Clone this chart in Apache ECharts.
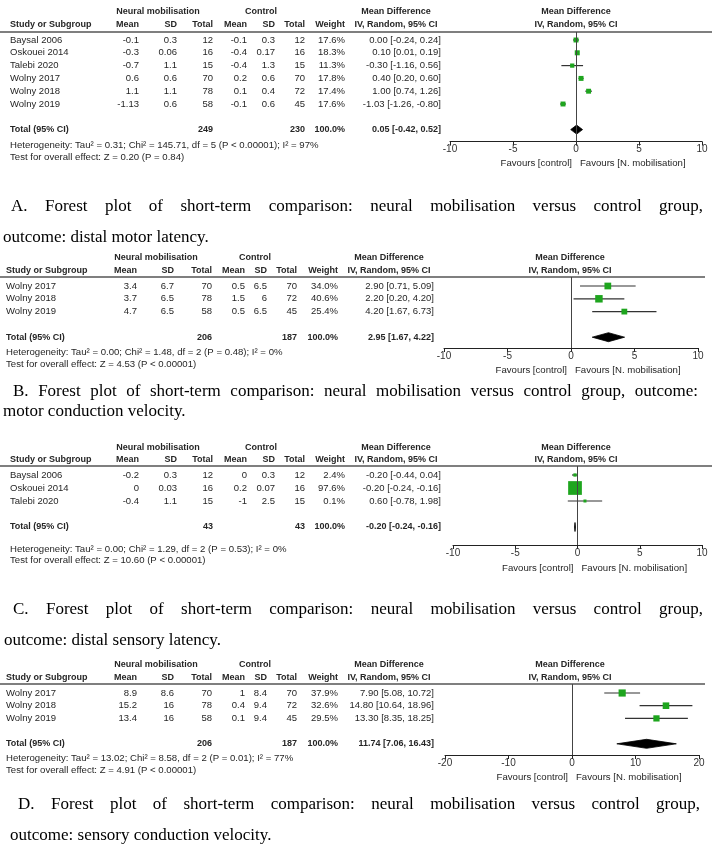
<!DOCTYPE html>
<html><head><meta charset="utf-8">
<script src="https://cdn.jsdelivr.net/npm/echarts@6/dist/echarts.min.js"></script>
<style>html,body{margin:0;padding:0;background:#fff}#c{width:712px;height:846px}</style>
</head><body><div id="c"></div>
<script>
// ---------- DATA ----------
// Panel A: distal motor latency
const studiesA = ['Baysal 2006','Oskouei 2014','Talebi 2020','Wolny 2017','Wolny 2018','Wolny 2019'];
const nmMeanA = [-0.1,-0.3,-0.7,0.6,1.1,-1.13];
const nmSdA = [0.3,0.06,1.1,0.6,1.1,0.6];
const nmTotalA = [12,16,15,70,78,58];
const ctMeanA = [-0.1,-0.4,-0.4,0.2,0.1,-0.1];
const ctSdA = [0.3,0.17,1.3,0.6,0.4,0.6];
const ctTotalA = [12,16,15,70,72,45];
const weightA = [17.6,18.3,11.3,17.8,17.4,17.6];
const mdA = [0.00,0.10,-0.30,0.40,1.00,-1.03];
const lowA = [-0.24,0.01,-1.16,0.20,0.74,-1.26];
const highA = [0.24,0.19,0.56,0.60,1.26,-0.80];
const totalA = [249,230,0.05,-0.42,0.52];
const hetA = 'Heterogeneity: Tau² = 0.31; Chi² = 145.71, df = 5 (P < 0.00001); I² = 97%';
const testA = 'Test for overall effect: Z = 0.20 (P = 0.84)';
const ticksA = [-10,10,5];

// Panel B: motor conduction velocity
const studiesB = ['Wolny 2017','Wolny 2018','Wolny 2019'];
const nmMeanB = [3.4,3.7,4.7];
const nmSdB = [6.7,6.5,6.5];
const nmTotalB = [70,78,58];
const ctMeanB = [0.5,1.5,0.5];
const ctSdB = [6.5,6,6.5];
const ctTotalB = [70,72,45];
const weightB = [34.0,40.6,25.4];
const mdB = [2.90,2.20,4.20];
const lowB = [0.71,0.20,1.67];
const highB = [5.09,4.20,6.73];
const totalB = [206,187,2.95,1.67,4.22];
const hetB = 'Heterogeneity: Tau² = 0.00; Chi² = 1.48, df = 2 (P = 0.48); I² = 0%';
const testB = 'Test for overall effect: Z = 4.53 (P < 0.00001)';
const ticksB = [-10,10,5];

// Panel C: distal sensory latency
const studiesC = ['Baysal 2006','Oskouei 2014','Talebi 2020'];
const nmMeanC = [-0.2,0,-0.4];
const nmSdC = [0.3,0.03,1.1];
const nmTotalC = [12,16,15];
const ctMeanC = [0,0.2,-1];
const ctSdC = [0.3,0.07,2.5];
const ctTotalC = [12,16,15];
const weightC = [2.4,97.6,0.1];
const mdC = [-0.20,-0.20,0.60];
const lowC = [-0.44,-0.24,-0.78];
const highC = [0.04,-0.16,1.98];
const totalC = [43,43,-0.20,-0.24,-0.16];
const hetC = 'Heterogeneity: Tau² = 0.00; Chi² = 1.29, df = 2 (P = 0.53); I² = 0%';
const testC = 'Test for overall effect: Z = 10.60 (P < 0.00001)';
const ticksC = [-10,10,5];

// Panel D: sensory conduction velocity
const studiesD = ['Wolny 2017','Wolny 2018','Wolny 2019'];
const nmMeanD = [8.9,15.2,13.4];
const nmSdD = [8.6,16,16];
const nmTotalD = [70,78,58];
const ctMeanD = [1,0.4,0.1];
const ctSdD = [8.4,9.4,9.4];
const ctTotalD = [70,72,45];
const weightD = [37.9,32.6,29.5];
const mdD = [7.90,14.80,13.30];
const lowD = [5.08,10.64,8.35];
const highD = [10.72,18.96,18.25];
const totalD = [206,187,11.74,7.06,16.43];
const hetD = 'Heterogeneity: Tau² = 13.02; Chi² = 8.58, df = 2 (P = 0.01); I² = 77%';
const testD = 'Test for overall effect: Z = 4.91 (P < 0.00001)';
const ticksD = [-20,20,10];

const captionA = ['A. Forest plot of short-term comparison: neural mobilisation versus control group,', 'outcome: distal motor latency.'];
const captionB = ['B. Forest plot of short-term comparison: neural mobilisation versus control group, outcome:', 'motor conduction velocity.'];
const captionC = ['C. Forest plot of short-term comparison: neural mobilisation versus control group,', 'outcome: distal sensory latency.'];
const captionD = ['D. Forest plot of short-term comparison: neural mobilisation versus control group,', 'outcome: sensory conduction velocity.'];

// ---------- LAYOUT ----------
const COLS_AC = {study:10, mean:139, sd:177, tot:213, cmean:247, csd:275, ctot:305, w:345, ci:441, nmHead:158, ctHead:261, mdHead:396, fpHead:576};
const COLS_BD = {study:6, mean:137, sd:174, tot:212, cmean:245, csd:267, ctot:297, w:338, ci:434, nmHead:156, ctHead:255, mdHead:389, fpHead:570};
const LAY = [
  {cols:COLS_AC, h1:12, h2:25, lineY:32, lineEnd:712, row0:40, step:12.8, axisY:141.6, plotL:450, plotR:702, hetY:145, testY:157, favY:163,
   cap:[{y:207, x0:11, x1:703, just:true},{y:238, x0:3}]},
  {cols:COLS_BD, h1:258, h2:271, lineY:277, lineEnd:705, row0:286, step:12.8, axisY:348, plotL:444, plotR:698, hetY:352, testY:364, favY:370,
   cap:[{y:392, x0:13, x1:698, just:true},{y:412, x0:3}]},
  {cols:COLS_AC, h1:448, h2:460, lineY:466, lineEnd:712, row0:475, step:13, axisY:545, plotL:453, plotR:702, hetY:549, testY:560, favY:568,
   cap:[{y:610, x0:13, x1:703, just:true},{y:641, x0:4}]},
  {cols:COLS_BD, h1:665, h2:678, lineY:684, lineEnd:705, row0:693, step:12.7, axisY:755, plotL:445, plotR:699, hetY:758, testY:770, favY:777,
   cap:[{y:805, x0:18, x1:700, just:true},{y:836, x0:10}]}
];

const P = [
  {studies:studiesA, nmMean:nmMeanA, nmSd:nmSdA, nmTot:nmTotalA, ctMean:ctMeanA, ctSd:ctSdA, ctTot:ctTotalA, w:weightA, md:mdA, lo:lowA, hi:highA, tot:totalA, het:hetA, test:testA, ticks:ticksA, cap:captionA},
  {studies:studiesB, nmMean:nmMeanB, nmSd:nmSdB, nmTot:nmTotalB, ctMean:ctMeanB, ctSd:ctSdB, ctTot:ctTotalB, w:weightB, md:mdB, lo:lowB, hi:highB, tot:totalB, het:hetB, test:testB, ticks:ticksB, cap:captionB},
  {studies:studiesC, nmMean:nmMeanC, nmSd:nmSdC, nmTot:nmTotalC, ctMean:ctMeanC, ctSd:ctSdC, ctTot:ctTotalC, w:weightC, md:mdC, lo:lowC, hi:highC, tot:totalC, het:hetC, test:testC, ticks:ticksC, cap:captionC},
  {studies:studiesD, nmMean:nmMeanD, nmSd:nmSdD, nmTot:nmTotalD, ctMean:ctMeanD, ctSd:ctSdD, ctTot:ctTotalD, w:weightD, md:mdD, lo:lowD, hi:highD, tot:totalD, het:hetD, test:testD, ticks:ticksD, cap:captionD}
];

const SANS = '"Liberation Sans", Arial, sans-serif';
const SERIF = '"Liberation Serif", "Times New Roman", serif';
const F_ROW = '9.5px ' + SANS;
const F_BOLD = 'bold 9px ' + SANS;
const F_SMALL = '9.6px ' + SANS;
const F_CAP = '17px ' + SERIF;
const TXT = '#262626';
const GREEN = '#1ea51e';

function ciText(m, l, h) { return m.toFixed(2) + ' [' + l.toFixed(2) + ', ' + h.toFixed(2) + ']'; }
function t(text, x, y, font, align) {
  return {type:'text', silent:true, style:{text:text, x:x, y:y, font:font, fill:TXT, textAlign:align||'left', textVerticalAlign:'middle'}};
}

const measureCtx = document.createElement('canvas').getContext('2d');
function captionEls(text, c) {
  if (!c.just) return [{type:'text', silent:true, style:{text:text, x:c.x0, y:c.y, font:F_CAP, fill:'#000', textAlign:'left', textVerticalAlign:'middle'}}];
  measureCtx.font = F_CAP;
  const words = text.split(' ');
  const ws = words.map(w => measureCtx.measureText(w).width);
  const sum = ws.reduce((a,b)=>a+b,0);
  const gap = (c.x1 - c.x0 - sum) / (words.length - 1);
  let x = c.x0; const els = [];
  words.forEach((w,i) => {
    els.push({type:'text', silent:true, style:{text:w, x:x, y:c.y, font:F_CAP, fill:'#000', textAlign:'left', textVerticalAlign:'middle'}});
    x += ws[i] + gap;
  });
  return els;
}

const grids = [], xAxes = [], yAxes = [], series = [], graphics = [];

P.forEach((p, pi) => {
  const L = LAY[pi], C = L.cols;
  const n = p.studies.length;
  const xmin = p.ticks[0], xmax = p.ticks[1], step = p.ticks[2];
  grids.push({left:L.plotL, width:L.plotR - L.plotL, top:L.lineY, height:L.axisY - L.lineY});
  xAxes.push({gridIndex:pi, type:'value', min:xmin, max:xmax, interval:step, position:'bottom',
    axisLine:{show:true, onZero:false, lineStyle:{color:'#222', width:1}},
    axisTick:{show:true, length:4, lineStyle:{color:'#222', width:1}},
    axisLabel:{show:true, fontSize:10, color:'#333', margin:3, fontFamily:SANS, showMinLabel:true, showMaxLabel:true},
    splitLine:{show:false}});
  yAxes.push({gridIndex:pi, type:'value', inverse:true, show:false,
    min: -(L.row0 - L.lineY) / L.step, max: (L.axisY - L.row0) / L.step});

  // table text rows
  const rowData = p.studies.map((s,i)=>[0,i]);
  rowData.push([0, n + 1]);
  series.push({type:'custom', xAxisIndex:pi, yAxisIndex:pi, clip:false, silent:true, z:5,
    data: rowData, encode:{x:0, y:1},
    renderItem: function(params, api) {
      const i = params.dataIndex;
      const y = api.coord([0, api.value(1)])[1];
      let kids;
      if (i < n) {
        kids = [
          t(p.studies[i], C.study, y, F_ROW, 'left'),
          t(String(p.nmMean[i]), C.mean, y, F_ROW, 'right'),
          t(String(p.nmSd[i]), C.sd, y, F_ROW, 'right'),
          t(String(p.nmTot[i]), C.tot, y, F_ROW, 'right'),
          t(String(p.ctMean[i]), C.cmean, y, F_ROW, 'right'),
          t(String(p.ctSd[i]), C.csd, y, F_ROW, 'right'),
          t(String(p.ctTot[i]), C.ctot, y, F_ROW, 'right'),
          t(p.w[i].toFixed(1) + '%', C.w, y, F_ROW, 'right'),
          t(ciText(p.md[i], p.lo[i], p.hi[i]), C.ci, y, F_ROW, 'right')
        ];
      } else {
        kids = [
          t('Total (95% CI)', C.study, y, F_BOLD, 'left'),
          t(String(p.tot[0]), C.tot, y, F_BOLD, 'right'),
          t(String(p.tot[1]), C.ctot, y, F_BOLD, 'right'),
          t('100.0%', C.w, y, F_BOLD, 'right'),
          t(ciText(p.tot[2], p.tot[3], p.tot[4]), C.ci, y, F_BOLD, 'right')
        ];
      }
      return {type:'group', children:kids};
    }
  });

  // study CIs and squares
  series.push({type:'custom', xAxisIndex:pi, yAxisIndex:pi, clip:false, silent:true, z:4,
    data: p.md.map((m,i)=>[m, i, p.lo[i], p.hi[i], p.w[i]]),
    encode:{x:[0,2,3], y:1},
    renderItem: function(params, api) {
      const yv = api.value(1);
      const c = api.coord([api.value(0), yv]);
      const l = api.coord([api.value(2), yv]);
      const h = api.coord([api.value(3), yv]);
      const s = 3 + api.value(4) * 0.11;
      return {type:'group', children:[
        {type:'line', shape:{x1:l[0], y1:l[1], x2:h[0], y2:h[1]}, style:{stroke:'#333', lineWidth:1.2}},
        {type:'rect', shape:{x:c[0]-s/2, y:c[1]-s/2, width:s, height:s}, style:{fill:GREEN}}
      ]};
    },
    markLine:{silent:true, symbol:'none', animation:false, label:{show:false},
      lineStyle:{color:'#444', width:1, type:'solid'}, data:[{xAxis:0}]}
  });

  // pooled diamond
  series.push({type:'custom', xAxisIndex:pi, yAxisIndex:pi, clip:false, silent:true, z:4,
    data: [[p.tot[2], n + 1, p.tot[3], p.tot[4]]], encode:{x:[0,2,3], y:1},
    renderItem: function(params, api) {
      const yv = api.value(1);
      const c = api.coord([api.value(0), yv]);
      const l = api.coord([api.value(2), yv]);
      const h = api.coord([api.value(3), yv]);
      return {type:'polygon', shape:{points:[[l[0],c[1]],[c[0],c[1]-4.5],[h[0],c[1]],[c[0],c[1]+4.5]]},
        style:{fill:'#000', stroke:'#000', lineWidth:0.8}};
    }
  });

  // headers
  graphics.push(
    t('Neural mobilisation', C.nmHead, L.h1, F_BOLD, 'center'),
    t('Control', C.ctHead, L.h1, F_BOLD, 'center'),
    t('Mean Difference', C.mdHead, L.h1, F_BOLD, 'center'),
    t('Mean Difference', C.fpHead, L.h1, F_BOLD, 'center'),
    t('Study or Subgroup', C.study, L.h2, F_BOLD, 'left'),
    t('Mean', C.mean, L.h2, F_BOLD, 'right'),
    t('SD', C.sd, L.h2, F_BOLD, 'right'),
    t('Total', C.tot, L.h2, F_BOLD, 'right'),
    t('Mean', C.cmean, L.h2, F_BOLD, 'right'),
    t('SD', C.csd, L.h2, F_BOLD, 'right'),
    t('Total', C.ctot, L.h2, F_BOLD, 'right'),
    t('Weight', C.w, L.h2, F_BOLD, 'right'),
    t('IV, Random, 95% CI', C.mdHead, L.h2, F_BOLD, 'center'),
    t('IV, Random, 95% CI', C.fpHead, L.h2, F_BOLD, 'center'),
    {type:'line', silent:true, shape:{x1:0, y1:L.lineY, x2:L.lineEnd, y2:L.lineY}, style:{stroke:'#555', lineWidth:1.5}},
    t(p.het, C.study, L.hetY, F_SMALL, 'left'),
    t(p.test, C.study, L.testY, F_SMALL, 'left')
  );
  const zeroX = L.plotL + (0 - xmin) / (xmax - xmin) * (L.plotR - L.plotL);
  graphics.push(
    t('Favours [control]', zeroX - 4, L.favY, F_SMALL, 'right'),
    t('Favours [N. mobilisation]', zeroX + 4, L.favY, F_SMALL, 'left')
  );
  // captions
  captionEls(p.cap[0], L.cap[0]).forEach(e => graphics.push(e));
  captionEls(p.cap[1], L.cap[1]).forEach(e => graphics.push(e));
});

const chart = echarts.init(document.getElementById('c'), null, {renderer:'canvas'});
chart.setOption({
  animation:false,
  backgroundColor:'#fff',
  grid:grids, xAxis:xAxes, yAxis:yAxes, series:series,
  graphic:{elements:graphics}
});
</script></body></html>
